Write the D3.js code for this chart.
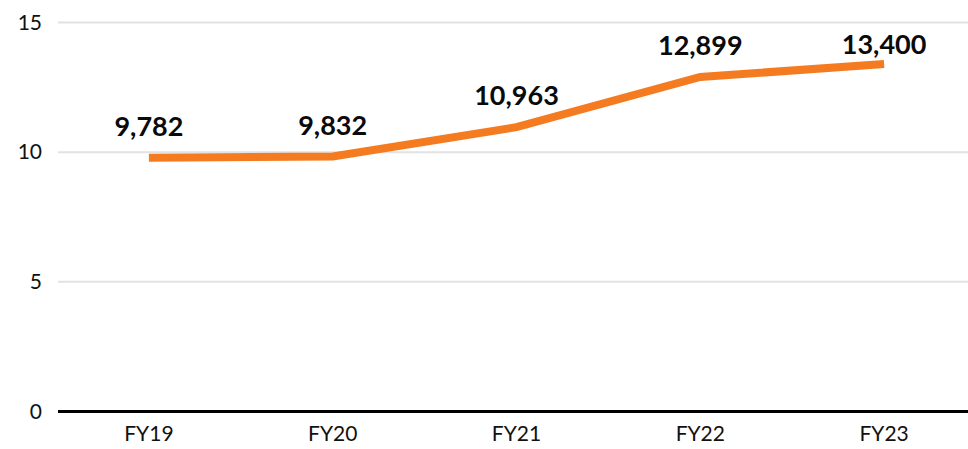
<!DOCTYPE html>
<html>
<head>
<meta charset="utf-8">
<script src="https://cdn.jsdelivr.net/npm/d3@7"></script>
<style>
  body { margin: 0; background: #fff; }
  svg { display: block; font-family: Lato, "Open Sans", sans-serif; }
</style>
</head>
<body>
<svg id="chart" width="968" height="449"></svg>
<script>
// values in thousands
var years = ["FY19", "FY20", "FY21", "FY22", "FY23"];
var revenue = [9.782, 9.832, 10.963, 12.899, 13.400];
var valueLabels = ["9,782", "9,832", "10,963", "12,899", "13,400"];
var yTicks = [0, 5, 10, 15];

var svg = d3.select("#chart");
var plotLeft = 58, plotRight = 968, plotTop = 22.5, plotBottom = 411.5;

var x = d3.scaleBand()
    .domain(years)
    .range([57, 976]);

var y = d3.scaleLinear()
    .domain([0, 15])
    .range([plotBottom, plotTop]);

// gridlines
svg.append("g")
    .selectAll("line")
    .data(yTicks.filter(function(d) { return d > 0; }))
    .enter().append("line")
        .attr("x1", plotLeft)
        .attr("x2", plotRight)
        .attr("y1", function(d) { return y(d); })
        .attr("y2", function(d) { return y(d); })
        .attr("stroke", "#e2e2e2")
        .attr("stroke-width", 2);

// y axis labels
var yaxis = d3.axisLeft(y)
    .tickValues(yTicks)
    .tickSize(0)
    .tickPadding(16);

var yg = svg.append("g")
    .attr("transform", "translate(" + plotLeft + ",0)")
    .call(yaxis);
yg.select(".domain").remove();
yg.selectAll("text")
    .attr("font-size", 21)
    .attr("font-family", "Lato, sans-serif")
    .attr("fill", "#111");

// x axis
var xaxis = d3.axisBottom(x).tickSize(0).tickPadding(15);
var xg = svg.append("g")
    .attr("transform", "translate(0," + plotBottom + ")")
    .call(xaxis);
xg.select(".domain")
    .attr("d", "M" + plotLeft + ",0H" + plotRight)
    .attr("stroke", "#000")
    .attr("stroke-width", 3);
xg.selectAll("text")
    .attr("font-size", 21)
    .attr("font-family", "Lato, sans-serif")
    .attr("fill", "#111");

// line
var line = d3.line()
    .x(function(d, i) { return x(years[i]) + x.bandwidth() / 2; })
    .y(function(d) { return y(d); });

svg.append("path")
    .datum(revenue)
    .attr("d", line)
    .attr("fill", "none")
    .attr("stroke", "#f47b20")
    .attr("stroke-width", 8)
    .attr("stroke-linejoin", "miter");

// value labels
svg.append("g")
    .selectAll("text")
    .data(revenue)
    .enter().append("text")
        .text(function(d, i) { return valueLabels[i]; })
        .attr("x", function(d, i) { return x(years[i]) + x.bandwidth() / 2; })
        .attr("y", function(d) { return Math.max(y(d) - 22, y(15) + 31); })
        .attr("text-anchor", "middle")
        .attr("font-size", 27)
        .attr("font-weight", "bold")
        .attr("font-family", "Lato, sans-serif")
        .attr("fill", "#0a0a0a");
</script>
</body>
</html>
